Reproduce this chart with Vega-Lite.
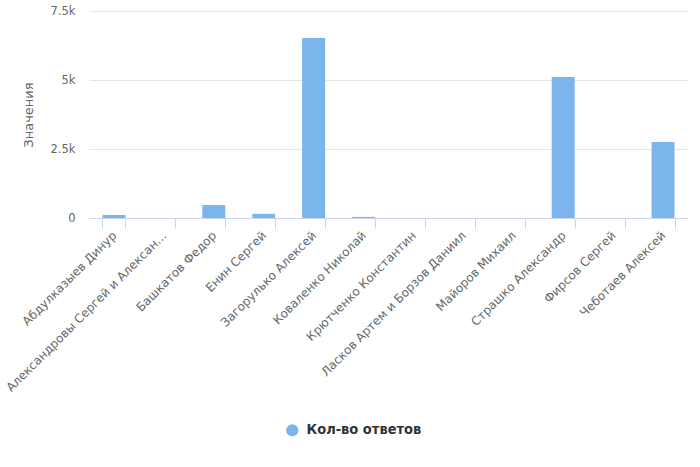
{
  "$schema": "https://vega.github.io/schema/vega-lite/v6.json",
  "width": 599,
  "height": 207,
  "autosize": {"type": "none"},
  "padding": {"left": 89, "top": 11, "right": 12, "bottom": 249},
  "background": "#ffffff",
  "config": {
    "font": "DejaVu Sans",
    "view": {"stroke": null}
  },
  "data": {
    "values": [
      {"name": "Абдулказыев Динур", "value": 110, "series": "Кол-во ответов"},
      {"name": "Александровы Сергей и Александра", "value": 0, "series": "Кол-во ответов"},
      {"name": "Башкатов Федор", "value": 470, "series": "Кол-во ответов"},
      {"name": "Енин Сергей", "value": 150, "series": "Кол-во ответов"},
      {"name": "Загорулько Алексей", "value": 6520, "series": "Кол-во ответов"},
      {"name": "Коваленко Николай", "value": 40, "series": "Кол-во ответов"},
      {"name": "Крютченко Константин", "value": 0, "series": "Кол-во ответов"},
      {"name": "Ласков Артем и Борзов Даниил", "value": 0, "series": "Кол-во ответов"},
      {"name": "Майоров Михаил", "value": 0, "series": "Кол-во ответов"},
      {"name": "Страшко Александр", "value": 5110, "series": "Кол-во ответов"},
      {"name": "Фирсов Сергей", "value": 0, "series": "Кол-во ответов"},
      {"name": "Чеботаев Алексей", "value": 2750, "series": "Кол-во ответов"}
    ]
  },
  "mark": {"type": "bar"},
  "encoding": {
    "x": {
      "field": "name",
      "type": "nominal",
      "sort": null,
      "scale": {"paddingInner": 0.54, "paddingOuter": 0.27},
      "axis": {
        "title": null,
        "labelAngle": -45,
        "labelAlign": "right",
        "labelBaseline": "middle",
        "labelFontSize": 12,
        "labelColor": "#666666",
        "labelLimit": 224,
        "labelPadding": 5,
        "tickBand": "extent",
        "tickColor": "#ccd6eb",
        "tickSize": 10,
        "domainColor": "#ccd6eb",
        "grid": false
      }
    },
    "y": {
      "field": "value",
      "type": "quantitative",
      "scale": {"domain": [0, 7500], "nice": false},
      "axis": {
        "title": "Значения",
        "titleColor": "#666666",
        "titleFontSize": 13,
        "titleFontWeight": "normal",
        "titlePadding": 15,
        "values": [0, 2500, 5000, 7500],
        "format": ".2~s",
        "labelFontSize": 11.5,
        "labelColor": "#666666",
        "labelPadding": 14,
        "ticks": false,
        "domain": false,
        "gridColor": "#e6e6e6"
      }
    },
    "color": {
      "field": "series",
      "type": "nominal",
      "scale": {"range": ["#7cb5ec"]},
      "legend": {
        "title": null,
        "orient": "none",
        "legendX": 196,
        "legendY": 412,
        "symbolType": "circle",
        "symbolSize": 150,
        "labelFont": "DejaVu Sans Condensed",
        "labelFontSize": 14.5,
        "labelFontWeight": "bold",
        "labelColor": "#333333",
        "labelOffset": 7
      }
    }
  }
}
